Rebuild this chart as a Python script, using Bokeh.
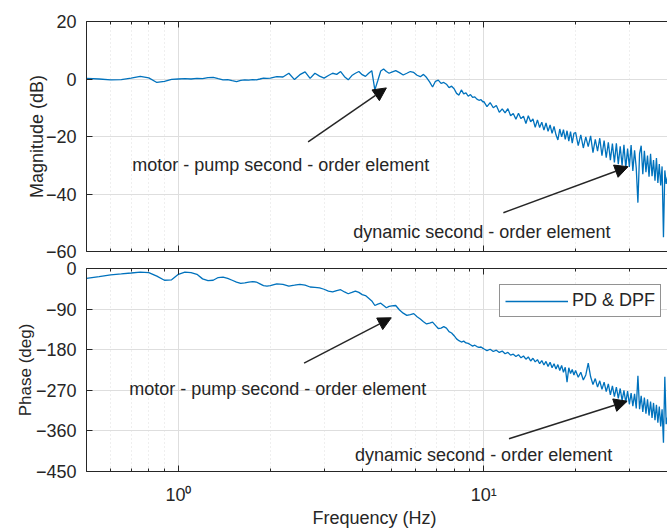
from bokeh.plotting import figure
from bokeh.models import (FixedTicker, LogAxis, Label, Arrow, NormalHead, Legend,
                          LegendItem)
from bokeh.layouts import column
from bokeh.embed import file_html
from bokeh.resources import INLINE

# ---------------- data ----------------
freq = [
    0.50, 0.55, 0.60, 0.65, 0.70, 0.75, 0.80, 0.85, 0.90, 0.95,
    1.00, 1.05, 1.10, 1.15, 1.20, 1.25, 1.30, 1.35, 1.40, 1.45,
    1.50, 1.55, 1.60, 1.65, 1.70, 1.75, 1.80, 1.85, 1.90, 1.95,
    2.0, 2.1, 2.2, 2.3, 2.4, 2.5, 2.6, 2.7, 2.8, 2.9,
    3.0, 3.1, 3.2, 3.3, 3.4, 3.5, 3.6, 3.7, 3.8, 3.9,
    4.0, 4.1, 4.2, 4.3, 4.4, 4.5, 4.6, 4.7, 4.8, 4.9,
    5.00, 5.15, 5.30, 5.45, 5.60, 5.75, 5.90, 6.05, 6.20, 6.35,
    6.50, 6.65, 6.80, 6.95, 7.10, 7.25, 7.40, 7.55, 7.70, 7.85,
    8.00, 8.15, 8.30, 8.45, 8.60, 8.75, 8.90, 9.05, 9.20, 9.35,
    9.50, 9.65, 9.80, 9.95,
    10.00, 10.25, 10.50, 10.75, 11.00, 11.25, 11.50, 11.75, 12.00, 12.25,
    12.50, 12.75, 13.00, 13.25, 13.50, 13.75, 14.00, 14.25, 14.50, 14.75,
    15.00, 15.25, 15.50, 15.75, 16.00, 16.25, 16.50, 16.75, 17.00, 17.25,
    17.50, 17.75, 18.00, 18.25, 18.50, 18.75, 19.00, 19.25, 19.50, 19.75,
    20.0, 20.4, 20.8, 21.2, 21.6, 22.0, 22.4, 22.8, 23.2, 23.6,
    24.0, 24.4, 24.8, 25.2, 25.6, 26.0, 26.4, 26.8, 27.2, 27.6,
    28.0, 28.4, 28.8, 29.2, 29.6, 30.0, 30.4, 30.8, 31.2, 31.6,
    32.0, 32.4, 32.8, 33.2, 33.6, 34.0, 34.4, 34.8, 35.2, 35.6,
    36.0, 36.4, 36.8, 37.2, 37.6, 38.0, 38.4, 38.8, 39.2, 39.6,
    40.0,
]

mag_db = [
    0.2, 0.0, -0.3, -0.2, 0.3, 0.9, 0.4, -1.2, -0.8, -0.1,
    0.0, 0.1, 0.0, 0.2, 0.1, 0.5, 0.6, 0.1, -0.3, -0.2,
    -0.6, -0.9, -0.5, -0.3, -0.4, -0.2, -0.3, 0.0, 0.3, 0.2,
    0.3, 0.8, 0.7, 2.0, -0.2, 1.5, 2.5, 0.2, 2.0, 1.0,
    0.3, 1.2, 2.0, 1.6, 2.6, 0.8, -0.3, 1.2, 2.0, 2.6,
    1.5, 0.9, 2.0, 2.9, -3.8, -0.5, 2.8, 3.5, 2.6, 2.0,
    2.4, 2.9, 2.2, 1.4, 2.0, 2.6, 2.3, 1.3, 0.8, 1.6,
    0.5, -1.0, -2.8, -0.8, -0.4, -1.5, -1.2, -1.8, -3.0, -2.5,
    -3.4, -5.0, -5.6, -3.8, -5.2, -4.8, -6.0, -5.4, -6.4, -6.2,
    -7.0, -7.4, -7.2, -8.0,
    -7.8, -9.6, -8.2, -10.0, -9.2, -11.6, -10.4, -11.8, -10.3, -12.8,
    -12.0, -14.0, -11.9, -13.8, -12.9, -15.5, -12.8, -14.9, -13.9, -16.8,
    -14.2, -16.9, -15.0, -17.8, -15.3, -18.2, -16.0, -18.9, -16.5, -19.4,
    -21.2, -17.4, -20.1, -17.6, -21.0, -18.0, -21.6, -18.3, -22.3, -18.9,
    -18.6, -23.2, -19.4, -24.0, -20.1, -23.5, -19.8, -25.6, -21.0, -25.1,
    -20.6, -26.7, -21.4, -27.4, -22.0, -28.2, -22.5, -29.0, -22.4, -29.6,
    -23.4, -30.1, -22.9, -31.0, -24.2, -30.6, -23.0, -32.0, -24.8, -31.0,
    -43.0, -26.0, -23.2, -33.1, -25.0, -32.4, -26.6, -34.0, -26.0, -33.8,
    -28.2, -35.4, -27.5, -36.2, -29.6, -37.0, -30.4, -55.0, -31.8, -36.5,
    -34.0,
]

phase_deg = [
    -22, -18, -14, -12, -10, -8, -9, -17, -26, -25,
    -13, -8, -9, -13, -23, -27, -26, -20, -19, -22,
    -26, -30, -33, -32, -30, -29, -30, -34, -38, -39,
    -38, -34, -35, -39, -37, -35, -37, -41, -42, -43,
    -46, -50, -52, -49, -47, -52, -56, -53, -50, -53,
    -58, -60, -66, -72, -82, -79, -77, -82, -87, -84,
    -83, -82, -92, -99, -104, -102, -100, -107, -112, -118,
    -123, -121, -119, -126, -133, -132, -129, -132, -140, -143,
    -149, -156, -160, -163, -161, -165, -166, -169, -172, -170,
    -173, -175, -174, -177,
    -178, -182, -179, -184, -181, -186, -183, -189, -186, -192,
    -190, -195, -191, -198, -194, -201, -196, -205, -199, -207,
    -202, -211, -204, -214, -206, -217, -208, -220, -211, -223,
    -213, -226, -215, -230, -219, -252, -220, -233, -224, -236,
    -226, -241, -230, -247, -236, -210, -240, -257, -244, -263,
    -249, -268, -252, -273, -256, -280, -260, -284, -263, -288,
    -266, -293, -270, -297, -272, -301, -276, -305, -278, -310,
    -238, -312, -282, -318, -286, -322, -290, -326, -295, -331,
    -298, -336, -302, -342, -306, -350, -312, -386, -240, -345,
    -330,
]

assert len(freq) == len(mag_db) == len(phase_deg)

x_major = [1, 10]
x_minor = [0.5, 0.6, 0.7, 0.8, 0.9, 2, 3, 4, 5, 6, 7, 8, 9, 20, 30, 40]
x_tick_labels = {1: "10\u2070", 10: "10\u00b9"}
mag_ticks = [-60, -40, -20, 0, 20]
phase_ticks = [-450, -360, -270, -180, -90, 0]
series_name = "PD & DPF"

FONT = "Liberation Sans"
TXT = "#262626"
LINE = "#0072BD"
GRID = "#dedede"


def hide_labels(ax):
    ax.major_label_text_font_size = "1px"
    ax.major_label_text_alpha = 0.0
    ax.major_label_standoff = 0


def style(p, yticks, ylabel, ylabel_size, ylabel_standoff, show_xlabels):
    p.outline_line_color = None
    p.background_fill_color = "white"
    p.border_fill_color = "white"
    # x axis below
    xa = p.xaxis[0]
    xa.ticker = FixedTicker(ticks=x_major, minor_ticks=x_minor)
    xa.major_tick_in = 6
    xa.major_tick_out = 0
    xa.minor_tick_in = 3
    xa.minor_tick_out = 0
    xa.axis_line_color = TXT
    xa.major_tick_line_color = TXT
    xa.minor_tick_line_color = TXT
    if show_xlabels:
        xa.major_label_overrides = x_tick_labels
        xa.major_label_text_font = FONT
        xa.major_label_text_font_size = "18px"
        xa.major_label_text_color = TXT
        xa.major_label_standoff = 13
        xa.axis_label = "Frequency  (Hz)"
        xa.axis_label_text_font = FONT
        xa.axis_label_text_font_size = "18px"
        xa.axis_label_text_font_style = "normal"
        xa.axis_label_text_color = TXT
        xa.axis_label_standoff = 0
    else:
        hide_labels(xa)
    # top axis (box with ticks)
    top = LogAxis(ticker=FixedTicker(ticks=x_major, minor_ticks=x_minor),
                  major_tick_in=6, major_tick_out=0, minor_tick_in=3,
                  minor_tick_out=0, axis_line_color=TXT,
                  major_tick_line_color=TXT, minor_tick_line_color=TXT)
    hide_labels(top)
    p.add_layout(top, "above")
    # y axis
    ya = p.yaxis[0]
    ya.ticker = FixedTicker(ticks=yticks)
    ya.major_tick_in = 6
    ya.major_tick_out = 0
    ya.minor_tick_line_color = None
    ya.axis_line_color = TXT
    ya.major_tick_line_color = TXT
    ya.major_label_text_font = FONT
    ya.major_label_text_font_size = "18px"
    ya.major_label_text_color = TXT
    ya.major_label_standoff = 10
    ya.axis_label = ylabel
    ya.axis_label_text_font = FONT
    ya.axis_label_text_font_size = ylabel_size
    ya.axis_label_text_font_style = "normal"
    ya.axis_label_text_color = TXT
    ya.axis_label_standoff = ylabel_standoff
    # grids
    p.xgrid.ticker = FixedTicker(ticks=x_major, minor_ticks=x_minor)
    p.xgrid.grid_line_color = GRID
    p.xgrid.minor_grid_line_color = GRID
    p.xgrid.minor_grid_line_dash = "1 3"
    p.ygrid.ticker = FixedTicker(ticks=yticks)
    p.ygrid.grid_line_color = GRID


def annotate(p, label_pos, arrows):
    for (x, y, t) in label_pos:
        p.add_layout(Label(x=x, y=y, text=t, text_font=FONT, text_font_size="18px",
                           text_color=TXT, text_align="left",
                           text_baseline="alphabetic"))
    for (x0, y0, x1, y1) in arrows:
        p.add_layout(Arrow(end=NormalHead(size=13, fill_color="#111111",
                                          line_color="#111111"),
                           x_start=x0, y_start=y0, x_end=x1, y_end=y1,
                           line_color="#262626", line_width=1.5))


# ---------------- magnitude ----------------
p1 = figure(width=667, height=260, x_axis_type="log", x_range=(0.5, 40.0),
            y_range=(-60, 20), output_backend="svg", toolbar_location=None,
            min_border_left=86, min_border_right=0, min_border_top=21,
            min_border_bottom=9)
style(p1, mag_ticks, "Magnitude (dB)", "18px", -4, False)
p1.line(freq, mag_db, line_color=LINE, line_width=1.3)
annotate(p1,
         [(0.706, -29.9, "motor - pump second - order element"),
          (3.74, -53.2, "dynamic second - order element")],
         [(2.66, -21.9, 4.80, -3.1), (11.6, -46.5, 29.7, -30.5)])

# ---------------- phase ----------------
p2 = figure(width=667, height=271, x_axis_type="log", x_range=(0.5, 40.0),
            y_range=(-450, 0), output_backend="svg", toolbar_location=None,
            min_border_left=86, min_border_right=0, min_border_top=8,
            min_border_bottom=60)
style(p2, phase_ticks, "Phase (deg)", "17px", -2, True)
r2 = p2.line(freq, phase_deg, line_color=LINE, line_width=1.3)
annotate(p2,
         [(0.690, -266.7, "motor - pump second - order element"),
          (3.79, -414.5, "dynamic second - order element")],
         [(2.58, -209.9, 4.98, -109.3), (12.1, -377.5, 29.5, -294.2)])

legend = Legend(items=[LegendItem(label=series_name, renderers=[r2])],
                location=(413, 154), orientation="vertical",
                label_text_font=FONT, label_text_font_size="18px",
                label_text_color=TXT, glyph_width=63, glyph_height=18,
                label_height=18, label_standoff=4, padding=5, spacing=0,
                margin=0, border_line_color="#262626", border_line_width=1,
                background_fill_color="white", background_fill_alpha=1.0)
p2.add_layout(legend, "center")

layout = column(p1, p2, spacing=0)
open("out.html", "w").write(file_html(layout, INLINE))
